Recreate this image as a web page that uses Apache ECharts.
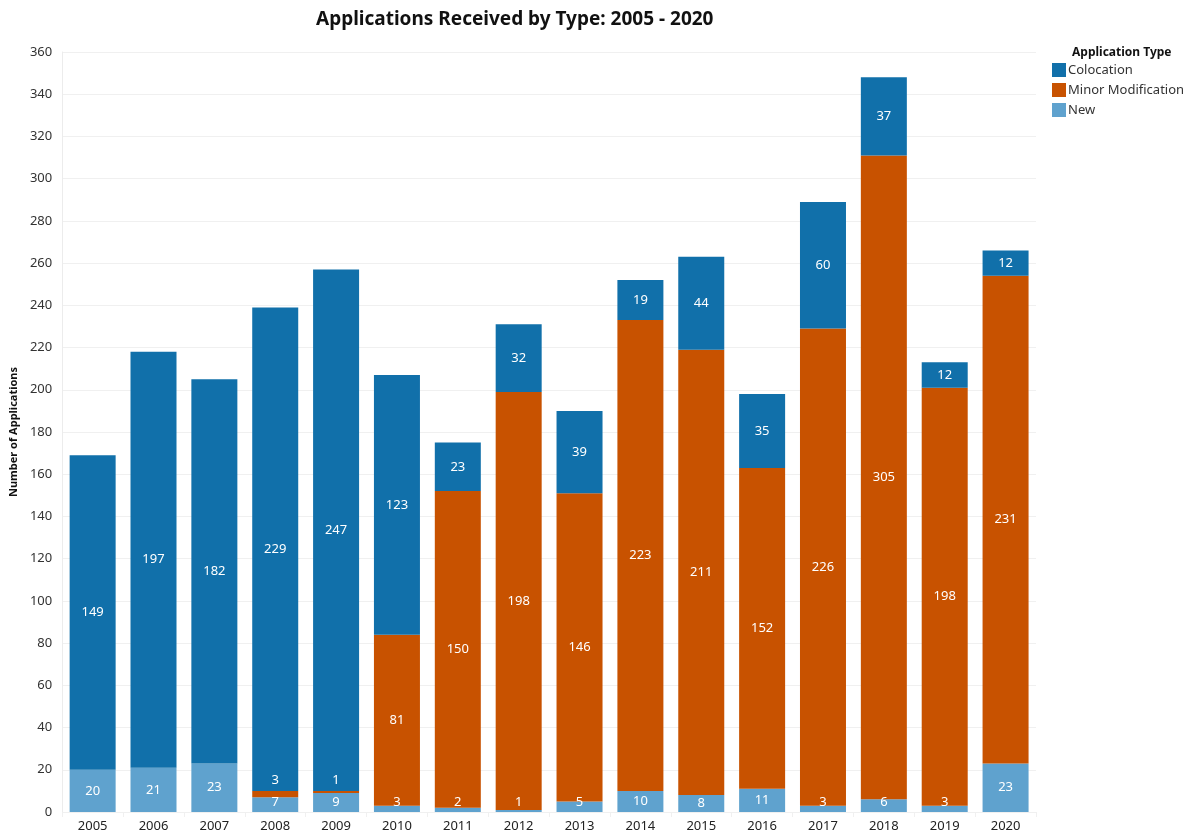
<!DOCTYPE html>
<html>
<head>
<meta charset="utf-8">
<title>Applications Received by Type</title>
<script src="https://cdn.jsdelivr.net/npm/echarts@6/dist/echarts.min.js"></script>
<style>
  html, body { margin: 0; padding: 0; background: #fff; }
  #chart { width: 1196px; height: 834px; }
</style>
</head>
<body>
<div id="chart"></div>
<script>
// data
const years = ["2005", "2006", "2007", "2008", "2009", "2010", "2011", "2012",
  "2013", "2014", "2015", "2016", "2017", "2018", "2019", "2020"];
const newApps = [20, 21, 23, 7, 9, 3, 2, 1, 5, 10, 8, 11, 3, 6, 3, 23];
const minorMod = [0, 0, 0, 3, 1, 81, 150, 198, 146, 223, 211, 152, 226, 305, 198, 231];
const colocation = [149, 197, 182, 229, 247, 123, 23, 32, 39, 19, 44, 35, 60, 37, 12, 12];
const yTicks = { min: 0, max: 360, interval: 20 };

const FONT = "Noto Sans";
const colors = { colo: "#1170aa", minor: "#c85200", new: "#5fa2ce" };

let myChart = echarts.init(document.getElementById("chart"));

const baseLabel = {
  show: true,
  color: "#fff",
  fontFamily: FONT,
  fontSize: 13,
  formatter: (p) => (p.value ? String(p.value) : ""),
};

// small segments: keep label readable like the original
const newData = newApps.map((v) =>
  v < 8 ? { value: v, label: { position: "insideBottom", distance: 3 } } : v
);
const minorData = minorMod.map((v) =>
  v > 0 && v < 8 ? { value: v, label: { position: "top", distance: 4 } } : v
);

let option = {
  animation: false,
  textStyle: { fontFamily: FONT },
  title: [
    {
      text: "Applications Received by Type: 2005 - 2020",
      left: 311,
      top: 5,
      textStyle: { fontFamily: FONT, fontSize: 19, fontWeight: "bold", color: "#111" },
    },
    {
      text: "Application Type",
      left: 1067,
      top: 42,
      textStyle: { fontFamily: FONT, fontSize: 12, fontWeight: "bold", color: "#111" },
    },
  ],
  legend: {
    orient: "vertical",
    left: 1047,
    top: 58,
    itemWidth: 14,
    itemHeight: 14,
    itemGap: 6,
    icon: "rect",
    data: ["Colocation", "Minor Modification", "New"],
    textStyle: { fontFamily: FONT, fontSize: 13, color: "#333", padding: [0, 0, 0, -3] },
  },
  grid: {
    left: 62,
    right: 160,
    top: 52,
    bottom: 22,
    containLabel: false,
  },
  xAxis: {
    type: "category",
    data: years,
    axisLine: { show: false },
    axisTick: {
      show: true,
      length: 5,
      lineStyle: { color: "#f0f0f0" },
    },
    axisLabel: {
      color: "#222",
      fontFamily: FONT,
      fontSize: 13,
      margin: 8,
    },
  },
  yAxis: {
    type: "value",
    min: yTicks.min,
    max: yTicks.max,
    interval: yTicks.interval,
    name: "Number of Applications",
    nameLocation: "middle",
    nameGap: 42,
    nameTextStyle: { fontFamily: FONT, fontSize: 11, fontWeight: "bold", color: "#111" },
    axisLine: { show: true, lineStyle: { color: "#ececec" } },
    axisTick: { show: false },
    axisLabel: { color: "#333", fontFamily: FONT, fontSize: 13, margin: 10 },
    splitLine: { lineStyle: { color: "#f0f0f0" } },
  },
  series: [
    {
      name: "New",
      type: "bar",
      stack: "total",
      barWidth: 46,
      itemStyle: { color: colors.new },
      label: Object.assign({}, baseLabel, { position: "inside" }),
      data: newData,
    },
    {
      name: "Minor Modification",
      type: "bar",
      stack: "total",
      barWidth: 46,
      itemStyle: { color: colors.minor },
      label: Object.assign({}, baseLabel, { position: "inside" }),
      data: minorData,
    },
    {
      name: "Colocation",
      type: "bar",
      stack: "total",
      barWidth: 46,
      itemStyle: { color: colors.colo },
      label: Object.assign({}, baseLabel, { position: "inside" }),
      data: colocation,
    },
  ],
};

myChart.setOption(option);
</script>
</body>
</html>
